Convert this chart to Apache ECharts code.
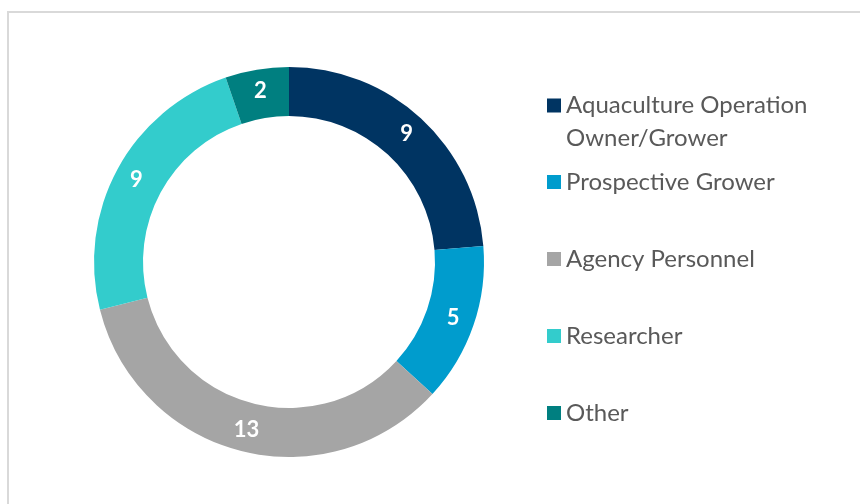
<!DOCTYPE html>
<html>
<head>
<meta charset="utf-8">
<script src="https://cdn.jsdelivr.net/npm/echarts@6/dist/echarts.min.js"></script>
<style>
  html, body { margin: 0; padding: 0; background: #fff; overflow: hidden; }
  .frame {
    position: absolute; left: 7px; top: 11px; width: 900px; height: 600px;
    border-left: 2px solid #d9d9d9; border-top: 2px solid #d9d9d9;
  }
  #chart { position: absolute; left: 0; top: 0; width: 860px; height: 504px; }
</style>
</head>
<body>
<div class="frame"></div>
<div id="chart"></div>
<script>
// region data
const categories = [
  'Aquaculture Operation\nOwner/Grower',
  'Prospective Grower',
  'Agency Personnel',
  'Researcher',
  'Other',
]
const counts = [9, 5, 13, 9, 2]
const colors = ['#003462', '#009ccd', '#a5a5a5', '#33cccc', '#007f80']
// endregion

const fontFamily = 'Lato, "Open Sans", sans-serif'
const legendText = {
  color: '#595959',
  fontSize: 24,
  fontFamily: fontFamily,
}

const chart = echarts.init(document.getElementById('chart'))
chart.setOption({
  animation: false,
  color: colors,
  legend: [
    {
      // first entry wraps onto two lines: square drawn in the top part of a
      // taller icon box so it lines up with the first line of text
      orient: 'vertical',
      left: 542,
      top: 84,
      icon: 'path://M0 0H14V14H0Z M0 47L14 47',
      itemWidth: 14,
      itemHeight: 47,
      selectedMode: false,
      data: categories.slice(0, 1),
      textStyle: Object.assign({}, legendText, { lineHeight: 33 }),
    },
    {
      orient: 'vertical',
      left: 542,
      top: 165,
      icon: 'rect',
      itemWidth: 14,
      itemHeight: 14,
      itemGap: 53,
      selectedMode: false,
      data: categories.slice(1),
      textStyle: Object.assign({}, legendText, { lineHeight: 24 }),
    },
  ],
  series: [
    {
      type: 'pie',
      center: [289, 262],
      radius: [146, 195],
      startAngle: 90,
      clockwise: true,
      silent: true,
      label: {
        show: true,
        position: 'inside',
        formatter: '{c}',
        color: '#fff',
        fontSize: 22,
        fontWeight: 'bold',
        fontFamily: fontFamily,
      },
      labelLine: { show: false },
      itemStyle: { borderWidth: 0 },
      data: categories.map((name, i) => ({ name: name, value: counts[i] })),
    },
  ],
})
</script>
</body>
</html>
